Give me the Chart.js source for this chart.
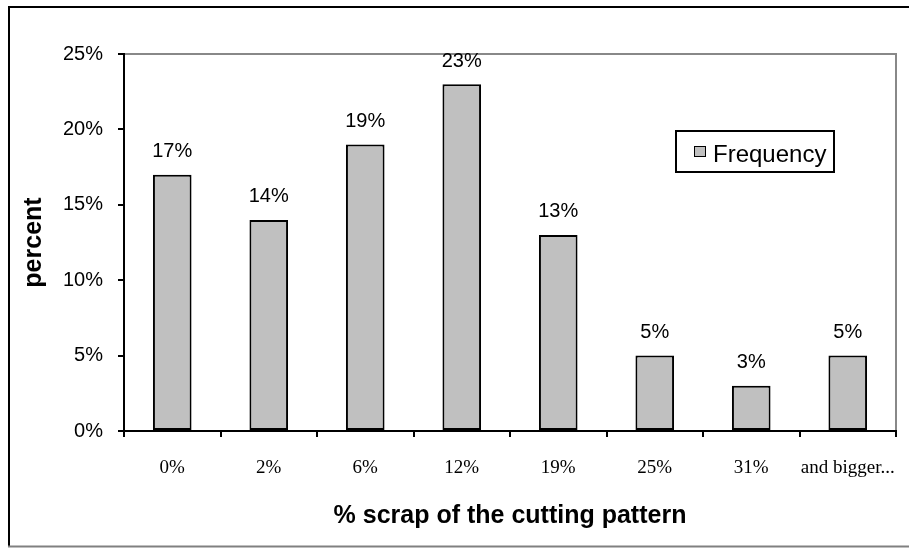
<!DOCTYPE html>
<html>
<head>
<meta charset="utf-8">
<script src="https://cdn.jsdelivr.net/npm/chart.js@4.4.1/dist/chart.umd.min.js"></script>
<style>
  html, body { margin: 0; padding: 0; background: #fff; }
  canvas { display: block; }
</style>
</head>
<body>
<canvas id="c" width="909" height="548"></canvas>
<script>
// Scrap distribution of the cutting pattern
const categories = ['0%', '2%', '6%', '12%', '19%', '25%', '31%', 'and bigger...'];
const frequency = [17, 14, 19, 23, 13, 5, 3, 5];
const yTickValues = [0, 5, 10, 15, 20, 25];
const seriesName = 'Frequency';
const xTitle = '% scrap of the cutting pattern';
const yTitle = 'percent';

const SANS = 'Arial, "Liberation Sans", sans-serif';
const SERIF = '"Times New Roman", "Liberation Serif", serif';
const BAR_FILL = '#c0c0c0';

// white page, outer frame and the grey top/right edges of the plot area
const framePlugin = {
  id: 'frame',
  beforeDraw(chart) {
    const ctx = chart.ctx;
    const a = chart.chartArea;
    ctx.save();
    ctx.fillStyle = '#fff';
    ctx.fillRect(0, 0, chart.width, chart.height);
    // outer frame
    ctx.lineWidth = 2;
    ctx.strokeStyle = '#000';
    ctx.beginPath();
    ctx.moveTo(9, 547); ctx.lineTo(9, 7); ctx.lineTo(chart.width, 7);
    ctx.stroke();
    ctx.strokeStyle = '#808080';
    ctx.beginPath();
    ctx.moveTo(8, 546.5); ctx.lineTo(chart.width, 546.5);
    ctx.stroke();
    // plot area top and right edges
    ctx.strokeStyle = '#888';
    ctx.lineWidth = 2;
    ctx.beginPath();
    ctx.moveTo(a.left, a.top); ctx.lineTo(a.right, a.top); ctx.lineTo(a.right, a.bottom);
    ctx.stroke();
    ctx.restore();
  }
};

// value labels above each bar
const valueLabels = {
  id: 'valueLabels',
  afterDatasetsDraw(chart) {
    const ctx = chart.ctx;
    const meta = chart.getDatasetMeta(0);
    const data = chart.data.datasets[0].data;
    ctx.save();
    ctx.font = '20px ' + SANS;
    ctx.fillStyle = '#000';
    ctx.textAlign = 'center';
    ctx.textBaseline = 'middle';
    meta.data.forEach((bar, i) => {
      ctx.fillText(data[i] + '%', bar.x, bar.y - 23);
    });
    ctx.restore();
  }
};

// boxed legend inside the plot area
const boxLegend = {
  id: 'boxLegend',
  afterDraw(chart) {
    const ctx = chart.ctx;
    const ds = chart.data.datasets[0];
    ctx.save();
    ctx.fillStyle = '#fff';
    ctx.fillRect(676, 131, 158, 41);
    ctx.lineWidth = 2;
    ctx.strokeStyle = '#000';
    ctx.strokeRect(676, 131, 158, 41);
    ctx.fillStyle = ds.backgroundColor;
    ctx.fillRect(694, 146, 12, 11);
    ctx.lineWidth = 1;
    ctx.strokeRect(694.5, 146.5, 11, 10);
    ctx.fillStyle = '#000';
    ctx.font = '24px ' + SANS;
    ctx.textAlign = 'left';
    ctx.textBaseline = 'middle';
    ctx.fillText(ds.label, 713, 155);
    ctx.restore();
  }
};

new Chart(document.getElementById('c'), {
  type: 'bar',
  data: {
    labels: categories,
    datasets: [{
      label: seriesName,
      data: frequency,
      backgroundColor: BAR_FILL,
      borderColor: '#000',
      borderWidth: 2,
      borderSkipped: false,
      barPercentage: 0.4,
      categoryPercentage: 1.0
    }]
  },
  options: {
    responsive: false,
    devicePixelRatio: 1,
    animation: false,
    layout: { padding: { top: 54, right: 13, left: 0, bottom: 0 } },
    plugins: {
      legend: { display: false },
      tooltip: { enabled: false }
    },
    scales: {
      x: {
        afterFit(scale) {
          scale.height = 117;
          scale.paddingLeft = 0;
          scale.paddingRight = 0;
        },
        grid: {
          offset: true,
          drawOnChartArea: false,
          drawTicks: true,
          tickLength: 6,
          color: '#000',
          lineWidth: 2
        },
        border: { display: true, color: '#000', width: 2 },
        ticks: {
          padding: 20,
          color: '#000',
          maxRotation: 0,
          autoSkip: false,
          font: { family: SERIF, size: 19 }
        },
        title: {
          display: true,
          text: xTitle,
          color: '#000',
          font: { family: SANS, size: 25, weight: 'bold', lineHeight: 1.2 },
          padding: { top: 0, bottom: 17 }
        }
      },
      y: {
        min: 0,
        max: 25,
        afterFit(scale) { scale.width = 124; },
        afterBuildTicks(scale) { scale.ticks = yTickValues.map(v => ({ value: v })); },
        grid: {
          drawOnChartArea: false,
          drawTicks: true,
          tickLength: 6,
          color: '#000',
          lineWidth: 2
        },
        border: { display: true, color: '#000', width: 2 },
        ticks: {
          padding: 15,
          color: '#000',
          font: { family: SANS, size: 20 },
          callback: v => v + '%'
        },
        title: {
          display: true,
          text: yTitle,
          color: '#000',
          font: { family: SANS, size: 25, weight: 'bold', lineHeight: 1.2 },
          padding: { top: 19, bottom: 0 }
        }
      }
    }
  },
  plugins: [framePlugin, valueLabels, boxLegend]
});
</script>
</body>
</html>
